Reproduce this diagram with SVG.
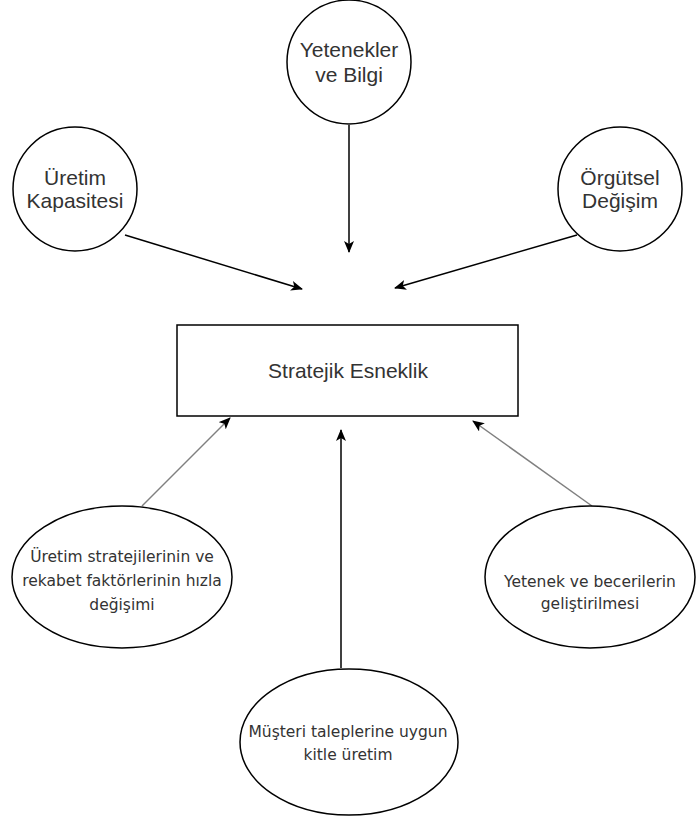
<svg xmlns="http://www.w3.org/2000/svg" width="696" height="822" viewBox="0 0 696 822">
  <style>
    .shape { fill: #ffffff; stroke: #000000; stroke-width: 1.5; }
    .lbl { font-family: "Liberation Sans", Arial, Helvetica, sans-serif; font-size: 21px; fill: #333333; text-anchor: middle; }
    .lbl-s { font-family: "DejaVu Sans", "Liberation Sans", Verdana, sans-serif; font-size: 15.5px; fill: #333333; text-anchor: middle; }
    .edge { fill: none; stroke: #000000; stroke-width: 1.5; }
    .edge-g { fill: none; stroke: #808080; stroke-width: 1.5; }
  </style>
  <defs>
    <marker id="arrow" viewBox="0 0 12 10" refX="11" refY="5" markerWidth="12" markerHeight="10" markerUnits="userSpaceOnUse" orient="auto">
      <path d="M0,0 L12,5 L0,10 L3,5 Z" fill="#000000"/>
    </marker>
  </defs>

  <!-- connectors -->
  <g id="connectors">
    <line class="edge" x1="349" y1="125" x2="349" y2="252" marker-end="url(#arrow)"/>
    <line class="edge" x1="125" y1="235" x2="302" y2="289" marker-end="url(#arrow)"/>
    <line class="edge" x1="577" y1="235" x2="395" y2="288" marker-end="url(#arrow)"/>
    <line class="edge-g" x1="142" y1="506" x2="230" y2="418" marker-end="url(#arrow)"/>
    <line class="edge-g" x1="592" y1="506" x2="473" y2="421" marker-end="url(#arrow)"/>
    <line class="edge" x1="341" y1="668" x2="341" y2="430" marker-end="url(#arrow)"/>
  </g>

  <!-- top circle -->
  <g id="yetenekler-bilgi">
    <circle class="shape" cx="349" cy="62" r="62"/>
    <text class="lbl" x="349" y="57">Yetenekler</text>
    <text class="lbl" x="349" y="82">ve Bilgi</text>
  </g>

  <!-- left circle -->
  <g id="uretim-kapasitesi">
    <circle class="shape" cx="75" cy="189" r="62"/>
    <text class="lbl" x="75" y="185">Üretim</text>
    <text class="lbl" x="75" y="208">Kapasitesi</text>
  </g>

  <!-- right circle -->
  <g id="orgutsel-degisim">
    <circle class="shape" cx="620" cy="189" r="62"/>
    <text class="lbl" x="620" y="185">Örgütsel</text>
    <text class="lbl" x="620" y="208">Değişim</text>
  </g>

  <!-- central box -->
  <g id="stratejik-esneklik">
    <rect class="shape" x="177" y="325" width="341" height="91"/>
    <text class="lbl" x="348" y="378">Stratejik Esneklik</text>
  </g>

  <!-- bottom-left ellipse -->
  <g id="uretim-stratejileri">
    <ellipse class="shape" cx="122" cy="577" rx="110" ry="71"/>
    <text class="lbl-s" x="122" y="562">Üretim stratejilerinin ve</text>
    <text class="lbl-s" x="122" y="586">rekabet faktörlerinin hızla</text>
    <text class="lbl-s" x="122" y="610">değişimi</text>
  </g>

  <!-- bottom-right ellipse -->
  <g id="yetenek-beceri">
    <ellipse class="shape" cx="590" cy="577" rx="105" ry="71"/>
    <text class="lbl-s" x="590" y="587">Yetenek ve becerilerin</text>
    <text class="lbl-s" x="590" y="609">geliştirilmesi</text>
  </g>

  <!-- bottom-middle ellipse -->
  <g id="musteri-talepleri">
    <ellipse class="shape" cx="349" cy="742" rx="109" ry="73"/>
    <text class="lbl-s" x="348" y="737">Müşteri taleplerine uygun</text>
    <text class="lbl-s" x="348" y="760">kitle üretim</text>
  </g>
</svg>
